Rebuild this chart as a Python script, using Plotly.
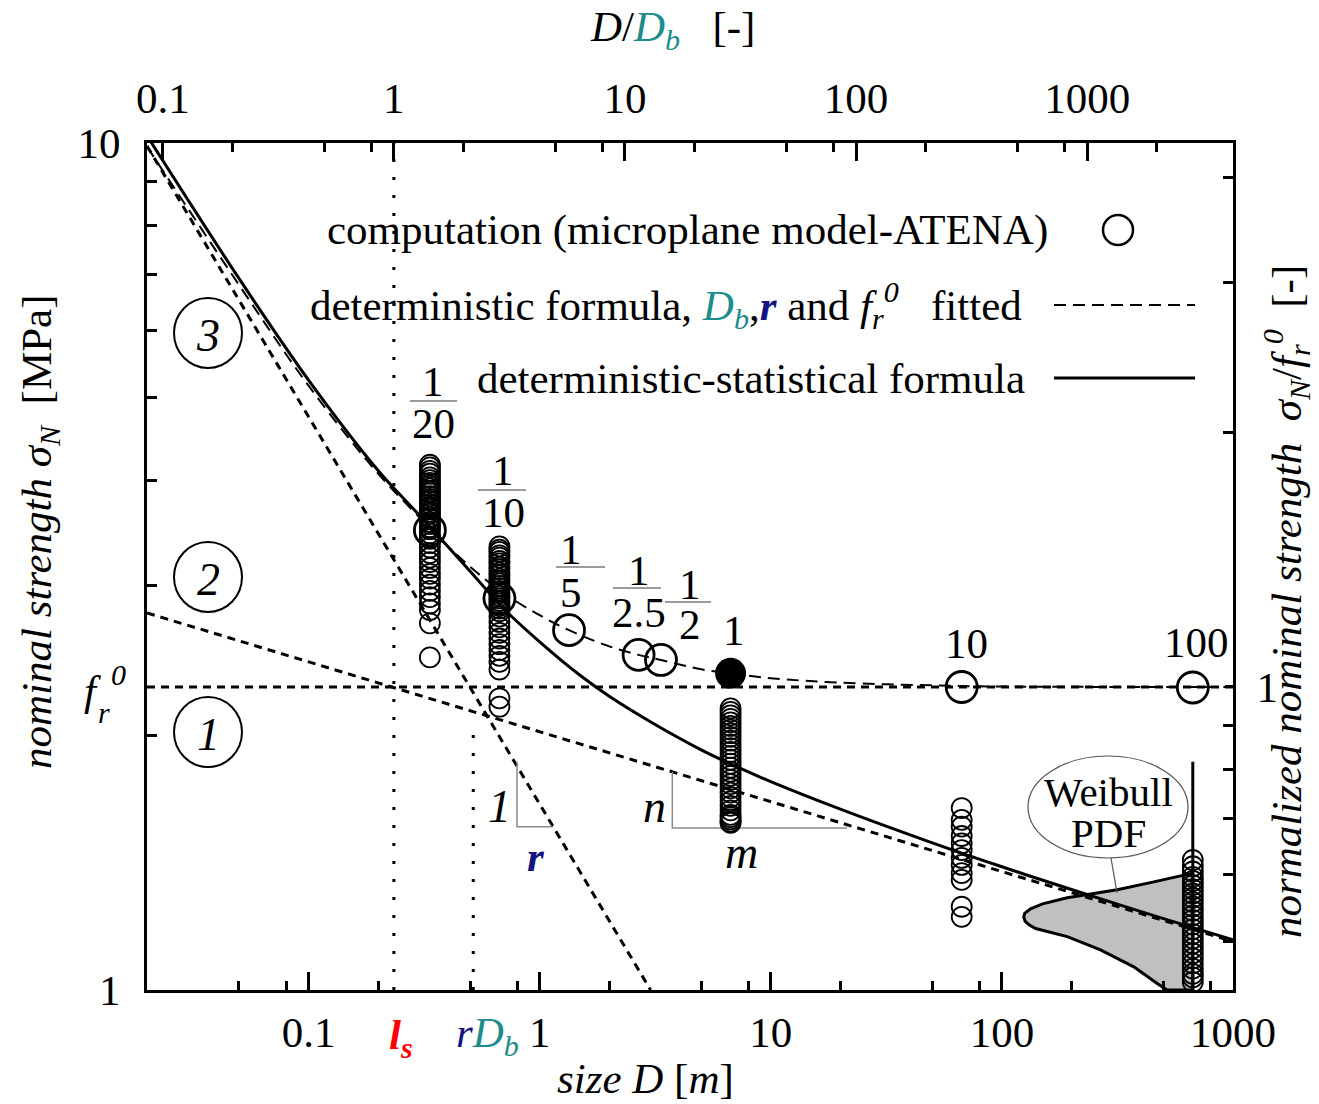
import numpy as np
import plotly.graph_objects as go

# ---------------- canvas / plot area ----------------
W, H = 1319, 1104
L, R, T, B = 147, 86, 143, 114
PW, PH = W - L - R, H - T - B


def xp(px):
    return (px - L) / PW


def yp(py):
    return (H - B - py) / PH


# ---------------- data ----------------
D_MIN, D_MAX = 0.02, 1000.0
S_MIN, S_MAX = 1.0, 10.0
D_b = 0.234          # m  (top axis D/D_b)
r_fit = 2.2
l_s = 0.234          # m
rD_b = 0.516         # m
f_r0 = 2.279         # MPa

# deterministic-statistical formula (solid)
detstat_D = [0.02, 0.05, 0.1, 0.2, 0.3, 0.5, 0.7, 1, 1.5, 2, 3, 5, 7, 10, 20, 50, 100, 200, 500, 1000]
detstat_S = [10.2, 6.92, 5.25, 4.106, 3.641, 3.122, 2.818, 2.577, 2.351, 2.222, 2.075, 1.921, 1.839,
             1.762, 1.635, 1.492, 1.398, 1.314, 1.214, 1.146]

# deterministic formula, fitted (long dash)
det_D = [0.02, 0.05, 0.1, 0.2, 0.3, 0.336, 0.5, 0.7, 1, 1.34, 2, 2.68, 3.35, 5, 6.7, 10, 20, 50, 100, 1000]
det_S = [9.9, 6.80, 5.17, 4.07, 3.62, 3.50, 3.16, 2.94, 2.77, 2.66, 2.545, 2.487, 2.453, 2.391, 2.365,
         2.334, 2.306, 2.289, 2.282, 2.279]

# asymptotes (short dash)
steep_D, steep_S = [0.02, 3.02], [9.92, 1.0]
shallow_D, shallow_S = [0.02, 1000], [2.787, 1.141]

# computations (microplane model - ATENA)
c20_S = [4.17, 4.14, 4.10, 4.07, 4.03, 4.00, 3.97, 3.94, 3.91, 3.88, 3.86, 3.83, 3.80, 3.78, 3.75, 3.72,
         3.70, 3.67, 3.65, 3.62, 3.60, 3.57, 3.55, 3.52, 3.50, 3.46, 3.43, 3.41, 3.37, 3.33, 3.28, 3.24,
         3.20, 3.15, 3.10, 3.06, 3.01, 2.96, 2.91, 2.86, 2.81, 2.71, 2.47]
c10_S = [3.34, 3.31, 3.29, 3.26, 3.24, 3.21, 3.19, 3.16, 3.14, 3.11, 3.09, 3.06, 3.04, 3.02, 3.00, 2.98,
         2.96, 2.94, 2.92, 2.90, 2.88, 2.86, 2.84, 2.82, 2.80, 2.76, 2.72, 2.68, 2.64, 2.60, 2.56, 2.52,
         2.48, 2.44, 2.39, 2.21, 2.16]
c1_S = [2.15, 2.13, 2.11, 2.09, 2.07, 2.05, 2.03, 2.01, 1.99, 1.97, 1.95, 1.93, 1.91, 1.89, 1.87, 1.85,
        1.83, 1.81, 1.79, 1.77, 1.75, 1.73, 1.71, 1.69, 1.67, 1.65, 1.63, 1.61, 1.60, 1.59, 1.58, 1.575]
c10x_S = [1.640, 1.588, 1.559, 1.52, 1.49, 1.463, 1.432, 1.405, 1.374, 1.349, 1.254, 1.22]
c100x_S = [1.424, 1.40, 1.38, 1.36, 1.345, 1.33, 1.315, 1.30, 1.285, 1.27, 1.255, 1.24, 1.225, 1.21,
           1.195, 1.18, 1.165, 1.15, 1.135, 1.12, 1.105, 1.09, 1.075, 1.06, 1.045, 1.035, 1.022]
cluster_D = [0.335, 0.67, 6.7, 67, 670]
clusters = [c20_S, c10_S, c1_S, c10x_S, c100x_S]

mean_D = [0.335, 0.67, 1.34, 2.68, 3.35, 67, 670]
mean_S = [3.49, 2.90, 2.66, 2.487, 2.453, 2.279, 2.276]
ref_D, ref_S = [6.7], [2.365]

# Weibull PDF outline at D = 670 m (leftward)
weib_D = [670, 612.5, 439.5, 315.3, 191.7, 150, 133, 125.5, 124.4, 126, 131, 140, 191.7, 267.1, 372.2,
          469.9, 519.2, 670, 670]
weib_S = [1.374, 1.367, 1.339, 1.313, 1.285, 1.264, 1.247, 1.232, 1.220, 1.206, 1.194, 1.182, 1.156,
          1.115, 1.065, 1.018, 1.000, 1.000, 1.374]
weib_base_D, weib_base_S = [670, 670], [1.0, 1.86]

# slope triangles
tri_r_D, tri_r_S = [0.798, 0.798, 1.143], [1.86, 1.559, 1.559]
tri_n_D, tri_n_S = [3.75, 3.75, 21.4], [1.81, 1.553, 1.553]

x_major = [0.1, 1, 10, 100, 1000]
x_major_text = ["0.1", "1", "10", "100", "1000"]
x_minor = [m * 10.0 ** k for k in range(-2, 3) for m in (2, 5, 8)]
x2_major = [0.1, 1, 10, 100, 1000]
x2_minor = [m * 10.0 ** k for k in range(-1, 4) for m in (2, 5, 8)]
y_minor = [2, 3, 4, 5, 6, 7, 8, 9]
y2_minor = [0.5, 0.6, 0.7, 0.8, 0.9, 2, 3, 4]

TEAL = "#1c8c8c"
NAVY = "#141480"
FONT = "Liberation Serif"
FS = 43

fig = go.Figure()


def line(x, y, dash=None, width=3.0, color="black", shape="linear", **kw):
    fig.add_trace(go.Scatter(x=x, y=y, mode="lines",
                             line=dict(color=color, width=width, dash=dash, shape=shape),
                             hoverinfo="skip", showlegend=False, **kw))


# Weibull PDF
fig.add_trace(go.Scatter(x=weib_D, y=weib_S, mode="lines", fill="toself", fillcolor="#c0c0c0",
                         line=dict(color="black", width=3), hoverinfo="skip", showlegend=False))
# reference lines
line([D_MIN, D_MAX], [f_r0, f_r0], dash="8px,6px", width=3)
line([l_s, l_s], [S_MIN, S_MAX], dash="3px,15px", width=3)
line([rD_b, rD_b], [S_MIN, 2.07], dash="3px,15px", width=3)
line(steep_D, steep_S, dash="8px,6px", width=3)
line(shallow_D, shallow_S, dash="8px,6px", width=3)
line(tri_r_D, tri_r_S, width=1.5, color="#8a8a8a")
line(tri_n_D, tri_n_S, width=1.5, color="#8a8a8a")
# formulas
line(det_D, det_S, dash="12px,7px", width=2, shape="spline")
line(detstat_D, detstat_S, width=3, shape="spline")
line(weib_base_D, weib_base_S, width=3)

# computation points
for d, s in zip(cluster_D, clusters):
    fig.add_trace(go.Scatter(x=[d] * len(s), y=s, mode="markers", cliponaxis=False,
                             marker=dict(symbol="circle-open", size=20, color="black", line=dict(width=1.8)),
                             hoverinfo="skip", showlegend=False))
fig.add_trace(go.Scatter(x=mean_D, y=mean_S, mode="markers", cliponaxis=False,
                         marker=dict(symbol="circle-open", size=31, color="black", line=dict(width=2.8)),
                         hoverinfo="skip", showlegend=False))
fig.add_trace(go.Scatter(x=ref_D, y=ref_S, mode="markers", cliponaxis=False,
                         marker=dict(symbol="circle", size=31, color="black"),
                         hoverinfo="skip", showlegend=False))
# normalized axes carrier (D/D_b, sigma/f_r0)
fig.add_trace(go.Scatter(x=[1, 1], y=[1, 1], mode="lines", line=dict(width=0), opacity=0,
                         xaxis="x2", yaxis="y2", hoverinfo="skip", showlegend=False))

# ---------------- axes ----------------
tfont = dict(family=FONT, size=FS, color="black")
common = dict(showgrid=False, zeroline=False, showline=True, linecolor="black", linewidth=3,
              ticks="inside", tickcolor="black", tickwidth=3, tickfont=tfont)
fig.update_layout(
    width=W, height=H, margin=dict(l=L, r=R, t=T, b=B, pad=0),
    paper_bgcolor="white", plot_bgcolor="white", showlegend=False,
    font=dict(family=FONT, size=FS, color="black"),
    xaxis=dict(type="log", range=[np.log10(D_MIN), np.log10(D_MAX)], tickmode="array",
               tickvals=x_major, ticktext=x_major_text, ticklen=18, ticklabelstandoff=2,
               minor=dict(tickmode="array", tickvals=x_minor, ticklen=9, tickwidth=3, tickcolor="black",
                          ticks="inside"), **common),
    xaxis2=dict(type="log", overlaying="x", side="top", anchor="y",
                range=[np.log10(D_MIN / D_b), np.log10(D_MAX / D_b)], tickmode="array",
                tickvals=x2_major, ticktext=["0.1", "1", "10", "100", "1000"], ticklen=18,
                ticklabelstandoff=10,
                minor=dict(tickmode="array", tickvals=x2_minor, ticklen=9, tickwidth=3, tickcolor="black",
                           ticks="inside"), **common),
    yaxis=dict(type="log", range=[np.log10(S_MIN), np.log10(S_MAX)], tickmode="array",
               tickvals=[1, 10], ticktext=["1", "10"], ticklen=18, ticklabelstandoff=15,
               minor=dict(tickmode="array", tickvals=y_minor, ticklen=10, tickwidth=3, tickcolor="black",
                          ticks="inside"), **common),
    yaxis2=dict(type="log", overlaying="y", side="right", anchor="x",
                range=[np.log10(S_MIN / f_r0), np.log10(S_MAX / f_r0)], tickmode="array",
                tickvals=[1], ticktext=["1"], ticklen=8, ticklabelstandoff=12,
                minor=dict(tickmode="array", tickvals=y2_minor, ticklen=10, tickwidth=3, tickcolor="black",
                           ticks="inside"), **common),
)

# ---------------- annotations ----------------
anns = []
shapes = []


def ann(px, py, text, size=FS, xanchor="center", yanchor="middle", angle=0, color="black"):
    anns.append(dict(x=xp(px), y=yp(py), xref="paper", yref="paper", text=text, showarrow=False,
                     xanchor=xanchor, yanchor=yanchor, textangle=angle,
                     font=dict(family=FONT, size=size, color=color)))


def seg(px0, py0, px1, py1, color="black", width=1.5, dash=None):
    shapes.append(dict(type="line", xref="paper", yref="paper", x0=xp(px0), y0=yp(py0), x1=xp(px1),
                       y1=yp(py1), line=dict(color=color, width=width, dash=dash)))


def ellipse(cx, cy, w, h, color="black", width=2):
    shapes.append(dict(type="circle", xref="paper", yref="paper", xsizemode="pixel", ysizemode="pixel",
                       xanchor=xp(cx), yanchor=yp(cy), x0=-w / 2, x1=w / 2, y0=-h / 2, y1=h / 2,
                       line=dict(color=color, width=width)))


# axis titles
ann(672, 30, f"<i>D</i>/<span style='color:{TEAL}'><i>D<sub>b</sub></i></span>   [-]")
ann(645, 1078, "<i>size D</i> [<i>m</i>]")
ann(40, 532, "<i>nominal strength</i> <i>σ<sub>N</sub></i>  [MPa]", angle=-90)
ann(1286, 602, "<i>normalized nominal strength</i>  <i>σ<sub>N</sub></i>/<i>f<sub>r</sub><sup>0</sup></i>  [-]",
    angle=-90)
# special bottom labels
ann(401, 1038, "<b><i>l<sub>s</sub></i></b>", color="red")
ann(487, 1036, f"<span style='color:{NAVY}'><i>r</i></span><span style='color:{TEAL}'><i>D<sub>b</sub></i></span>")
# f_r^0 on the left axis
ann(92, 690, "<i>f</i>", size=FS)
ann(104, 712, "<i>r</i>", size=30)
ann(118, 674, "<i>0</i>", size=30)

# legend
ann(1050, 230, "computation (microplane model-ATENA)", xanchor="right")
ann(1024, 305, f"deterministic formula, <span style='color:{TEAL}'><i>D<sub>b</sub></i></span>,"
               f"<span style='color:{NAVY}'><b><i>r</i></b></span> and <i>f<sub>r</sub><sup>0</sup></i>   fitted",
    xanchor="right")
ann(1027, 378, "deterministic-statistical formula", xanchor="right")
ellipse(1118, 230, 30, 30, width=2.5)
seg(1054, 305, 1195, 305, width=2, dash="12px,7px")
seg(1054, 378, 1195, 378, width=3)

# scale labels above the computations
fracs = [(433, 381, 423, 410, 457, 401, "20"), (503, 471, 512, 478, 526, 490, "10"),
         (571, 549, 592, 556, 605, 567, "5"), (639, 570, 612, 613, 661, 588, "2.5"),
         (690, 584, 624, 665, 711, 602, "2")]
for cx, ny, dy, b0, b1, by, den in fracs:
    ann(cx, ny, "1")
    ann(cx, dy, den)
    seg(b0, by, b1, by, color="#7a7a7a", width=1.5)
ann(734, 630, "1")
ann(966, 643, "10")
ann(1196, 642, "100")

# circled regime numbers
for cy, t in [(333, "3"), (577, "2"), (732, "1")]:
    ellipse(208, cy, 68, 70, width=2)
    ann(208, cy + 2, f"<i>{t}</i>", size=46)

# slope triangle labels
ann(499, 806, "<i>1</i>", size=46)
ann(536, 856, f"<b><i>r</i></b>", color=NAVY)
ann(654, 806, "<i>n</i>", size=46)
ann(741, 852, "<i>m</i>", size=46)

# Weibull label
ellipse(1108, 807, 160, 102, color="#555555", width=1.2)
seg(1111, 858, 1117, 893, color="#555555", width=1.2)
ann(1108, 792, "Weibull", size=41)
ann(1108, 833, "PDF", size=41)

fig.update_layout(annotations=anns, shapes=shapes)
fig.write_html("out.html")
